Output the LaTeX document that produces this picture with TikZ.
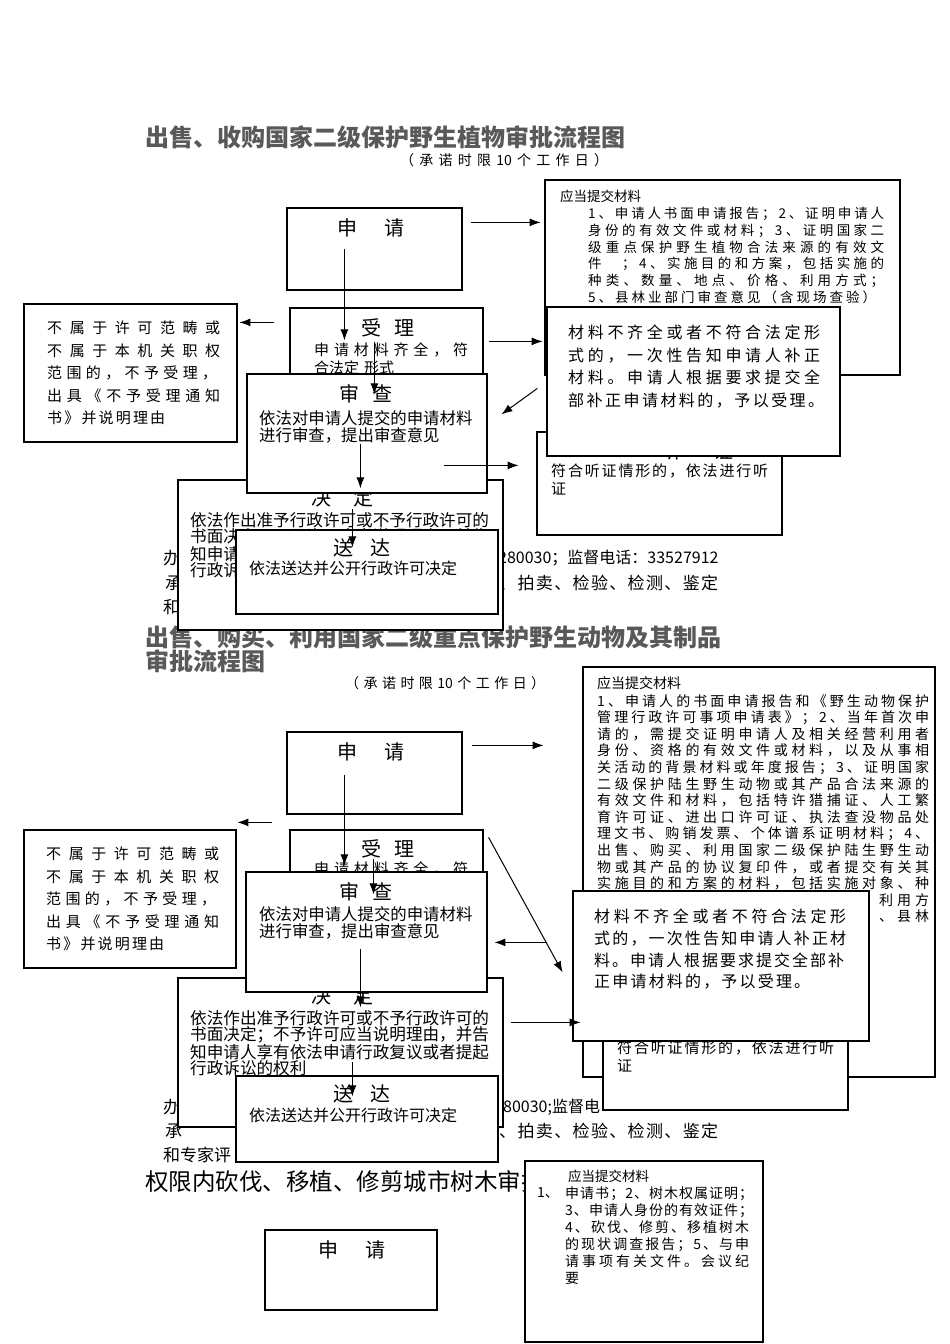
\documentclass[tikz,border=0pt]{standalone}
\usepackage{fontspec}
\setmainfont{Noto Sans CJK SC}
\usetikzlibrary{arrows.meta,fit}

% spread the characters of a line over a given width
\ExplSyntaxOn
\NewDocumentCommand\jw{mm}{\makebox[#1][s]{\tl_map_inline:nn{#2}{##1\hfil}\unskip}}
\ExplSyntaxOff

\begin{document}
\begin{tikzpicture}[x=1pt,y=-1pt,
  box/.style={draw,fill=white,line width=1.2pt,inner sep=0pt},
  link/.style={-{Latex[length=11pt,width=8pt]},line width=1pt},
  ttl/.style={anchor=west,inner sep=0pt,text=black!65,font=\fontsize{24}{26}\selectfont\bfseries},
  hd/.style={inner sep=0pt,font=\fontsize{20}{22}\selectfont},
  tx/.style={anchor=west,inner sep=0pt,font=\fontsize{#1}{#1}\selectfont},
  para/.style 2 args={anchor=north west,inner sep=0pt,align=left,font=\fontsize{#1}{#2}\selectfont}
]
\useasboundingbox (0,0) rectangle (950,1344);
\fill[white] (0,0) rectangle (950,1344);

% ---- plants
\node[ttl] (ttl1) at (145,137) {出售、收购国家二级保护野生植物审批流程图};
\node[tx=14] (sub1) at (400,160) {\jw{208pt}{（承诺时限{10}个工作日）}};

\node[box,fit={(287,208)(462,290)}] (req1) {};
\node[hd] (req1h) at (371,228) {申\hspace{1.4em}请};

\node[tx=17] (ft1a) at (163,558) {办};
\node[tx=16] (ft1b) at (498,558) {280030；监督电话：33527912};
\node[tx=17] (ft1c) at (165,583) {承};
\node[tx=17] (ft1d) at (499,583) {\jw{219pt}{、拍卖、检验、检测、鉴定}};
\node[tx=17] (ft1e) at (163,607) {和};

\node[ttl] (ttl2) at (145,637) {出售、购买、利用国家二级重点保护野生动物及其制品};
\node[ttl] (ttl2b) at (145,661) {审批流程图};

\node[box,fit={(178,480)(503,630)}] (dec1) {};
\node[hd] (dec1h) at (342,498) {决\hspace{1.1em}定};
\node[para={16.6}{16.5}] (dec1t) at (190,512) {依法作出准予行政许可或不予行政许可的\\书面决定；不予许可应当说明理由，并告\\知申请人享有依法申请行政复议或者提起\\行政诉讼的权利};

\node[box,fit={(290,308)(483,390)}] (acc1) {};
\node[hd] (acc1h) at (388,328) {受\hspace{0.7em}理};
\node[para={15}{18}] (acc1t) at (314,343) {\jw{154pt}{申请材料齐全，符}\\合法定\hspace{5pt}形式};

\node[box,fit={(247,374)(487,493)}] (chk1) {};
\node[hd] (chk1h) at (366,394) {审\hspace{0.7em}查};
\node[para={16.4}{17}] (chk1t) at (259,410) {依法对申请人提交的申请材料\\进行审查，提出审查意见};

\node[box,fit={(236,530)(498,614)}] (dlv1) {};
\node[hd] (dlv1h) at (362,548) {送\hspace{0.9em}达};
\node[para={16}{17}] (dlv1t) at (249,561) {依法送达并公开行政许可决定};

\node[box,fit={(24,304)(237,442)}] (rej1) {};
\node[para={15}{22.4}] (rej1t) at (47,321) {\jw{173pt}{不属于许可范畴或}\\\jw{173pt}{不属于本机关职权}\\\jw{170pt}{范围的，不予受理，}\\\jw{173pt}{出具《不予受理通知}\\\jw{118pt}{书》并说明理由}};

\node[box,fit={(545,180)(900,375)}] (mat1) {};
\node[tx=13.5] (mat1h) at (560,196) {应当提交材料};
\node[para={13.5}{16.8}] (mat1t) at (588,207) {\jw{296pt}{1、申请人书面申请报告；2、证明申请人}\\\jw{296pt}{身份的有效文件或材料；3、证明国家二}\\\jw{296pt}{级重点保护野生植物合法来源的有效文}\\\jw{296pt}{件　；4、实施目的和方案，包括实施的}\\\jw{296pt}{种类、数量、地点、价格、利用方式；}\\\jw{288pt}{5、县林业部门审查意见（含现场查验）}};

\node[box,fit={(537,432)(782,535)}] (hear1) {};
\node[hd] (hear1h) at (697,451) {听\hspace{1.6em}证};
\node[para={15}{18}] (hear1t) at (551,464) {\jw{217pt}{符合听证情形的，依法进行听}\\证};

\node[box,fit={(547,307)(840,456)}] (fix1) {};
\node[para={16}{22.5}] (fix1t) at (568,325) {\jw{252pt}{材料不齐全或者不符合法定形}\\\jw{252pt}{式的，一次性告知申请人补正}\\\jw{252pt}{材料。申请人根据要求提交全}\\\jw{256pt}{部补正申请材料的，予以受理。}};

\draw[link] ([shift={(8,15)}]req1.north east) -- ++(70,0);
\draw[link] ([shift={(58,42)}]req1.north west) -- ++(0,91);
\draw[link] ([shift={(85,35)}]acc1.north west) -- ++(0,52);
\draw[link] ([shift={(-15,15)}]acc1.north west) -- ++(-35,0);
\draw[link] ([shift={(5,34)}]acc1.north east) -- ++(54,0);
\draw[link] ([shift={(-9,82)}]fix1.north west) -- ++(-36,26);
\draw[link] ([shift={(114,71)}]chk1.north west) -- ++(0,44);
\draw[link] ([shift={(175,30)}]dec1.north west) -- ++(0,38);
\draw[link] ([shift={(-44,92)}]chk1.north east) -- ++(75,0);

% ---- animals
\node[tx=14] (sub2) at (345,683) {\jw{200pt}{（承诺时限{10}个工作日）}};

\node[box,fit={(287,732)(462,814)}] (req2) {};
\node[hd] (req2h) at (371,752) {申\hspace{1.4em}请};

\node[tx=17] (ft2a) at (163,1107) {办};
\node[tx=16] (ft2b) at (503,1107) {80030;监督电};
\node[tx=17] (ft2c) at (165,1131) {承};
\node[tx=17] (ft2d) at (499,1131) {\jw{219pt}{、拍卖、检验、检测、鉴定}};
\node[tx=17] (ft2e) at (163,1155) {和专家评};

\node[box,fit={(178,978)(503,1127)}] (dec2) {};
\node[hd] (dec2h) at (342,996) {决\hspace{1.1em}定};
\node[para={16.6}{16.5}] (dec2t) at (190,1010) {依法作出准予行政许可或不予行政许可的\\书面决定；不予许可应当说明理由，并告\\知申请人享有依法申请行政复议或者提起\\行政诉讼的权利};

\node[box,fit={(290,830)(483,890)}] (acc2) {};
\node[hd] (acc2h) at (388,849) {受\hspace{0.7em}理};
\node[para={15}{18}] (acc2t) at (314,862) {\jw{154pt}{申请材料齐全，符}\\合法定\hspace{5pt}形式};

\node[box,fit={(246,872)(487,992)}] (chk2) {};
\node[hd] (chk2h) at (366,892) {审\hspace{0.7em}查};
\node[para={16.4}{17}] (chk2t) at (259,906) {依法对申请人提交的申请材料\\进行审查，提出审查意见};

\node[box,fit={(236,1076)(498,1162)}] (dlv2) {};
\node[hd] (dlv2h) at (362,1094) {送\hspace{0.9em}达};
\node[para={16}{17}] (dlv2t) at (249,1108) {依法送达并公开行政许可决定};

\node[box,fit={(24,830)(236,968)}] (rej2) {};
\node[para={15}{22.4}] (rej2t) at (46,847) {\jw{173pt}{不属于许可范畴或}\\\jw{173pt}{不属于本机关职权}\\\jw{170pt}{范围的，不予受理，}\\\jw{173pt}{出具《不予受理通知}\\\jw{118pt}{书》并说明理由}};

\node[box,fit={(583,667)(935,1077)}] (mat2) {};
\node[tx=14] (mat2h) at (597,683) {应当提交材料};
\node[para={14}{16.6}] (mat2t) at (597,694) {\jw{332pt}{1、申请人的书面申请报告和《野生动物保护}\\\jw{332pt}{管理行政许可事项申请表》；2、当年首次申}\\\jw{332pt}{请的，需提交证明申请人及相关经营利用者}\\\jw{332pt}{身份、资格的有效文件或材料，以及从事相}\\\jw{332pt}{关活动的背景材料或年度报告；3、证明国家}\\\jw{332pt}{二级保护陆生野生动物或其产品合法来源的}\\\jw{332pt}{有效文件和材料，包括特许猎捕证、人工繁}\\\jw{332pt}{育许可证、进出口许可证、执法查没物品处}\\\jw{332pt}{理文书、购销发票、个体谱系证明材料；4、}\\\jw{332pt}{出售、购买、利用国家二级保护陆生野生动}\\\jw{332pt}{物或其产品的协议复印件，或者提交有关其}\\\jw{332pt}{实施目的和方案的材料，包括实施对象、种}\\\makebox[332pt][r]{\jw{50pt}{利用方}}\\\makebox[332pt][r]{\jw{50pt}{、县林}}};

\node[box,fit={(603,1009)(848,1110)}] (hear2) {};
\node[hd] (hear2h) at (697,1028) {听\hspace{1.6em}证};
\node[para={15}{18}] (hear2t) at (617,1041) {\jw{217pt}{符合听证情形的，依法进行听}\\证};

\node[box,fit={(573,891)(869,1041)}] (fix2) {};
\node[para={16}{21.7}] (fix2t) at (594,909) {\jw{252pt}{材料不齐全或者不符合法定形}\\\jw{252pt}{式的，一次性告知申请人补正材}\\\jw{250pt}{料。申请人根据要求提交全部补}\\\jw{216pt}{正申请材料的，予以受理。}};

\draw[link] ([shift={(9,14)}]req2.north east) -- ++(72,0);
\draw[link] ([shift={(58,44)}]req2.north west) -- ++(0,90);
\draw[link] ([shift={(84,30)}]acc2.north west) -- ++(0,35);
\draw[link] ([shift={(-17,-7)}]acc2.north west) -- ++(-35,0);
\draw[link] ([shift={(5,8)}]acc2.north east) -- ++(74,135);
\draw[link] ([shift={(-25,52)}]fix2.north west) -- ++(-53,0);
\draw[link] ([shift={(115,78)}]chk2.north west) -- ++(0,58);
\draw[link] ([shift={(175,85)}]dec2.north west) -- ++(0,34);
\draw[link] ([shift={(7,45)}]dec2.north east) -- ++(70,0);

% ---- city trees
\node[tx=23.5] (ttl3) at (145,1182) {权限内砍伐、移植、修剪城市树木审批流程图};

\node[box,fit={(265,1230)(437,1310)}] (req3) {};
\node[hd] (req3h) at (352,1250) {申\hspace{1.4em}请};

\node[box,fit={(525,1161)(763,1342)}] (mat3) {};
\node[tx=13.5] (mat3h) at (568,1176) {应当提交材料};
\node[tx=14] (mat3n) at (537,1193) {1、};
\node[para={14}{17}] (mat3t) at (565,1187) {\jw{188pt}{申请书；2、树木权属证明；}\\\jw{188pt}{3、申请人身份的有效证件；}\\\jw{184pt}{4、砍伐、修剪、移植树木}\\\jw{184pt}{的现状调查报告；5、与申}\\\jw{184pt}{请事项有关文件。会议纪}\\要};
\end{tikzpicture}
\end{document}
